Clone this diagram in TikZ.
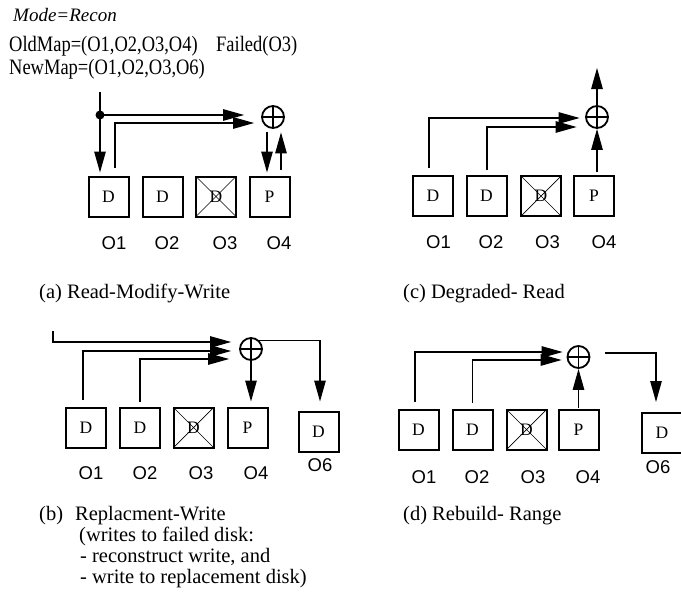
\documentclass[tikz,border=0pt]{standalone}
\usepackage{fontspec}
\setmainfont{Liberation Serif}
\newfontfamily\osans{Liberation Sans}
\newfontfamily\headfont[FakeStretch=0.84]{Liberation Serif}
\usetikzlibrary{calc,arrows.meta}

\tikzstyle{disk}=[draw,line width=2pt,minimum size=40pt,inner sep=0pt,font=\fontsize{17.5}{17.5}\selectfont]
\tikzstyle{failed}=[disk,path picture={\draw[line width=0.7pt] (path picture bounding box.north west) -- (path picture bounding box.south east) (path picture bounding box.south west) -- (path picture bounding box.north east);}]
\tikzstyle{xor}=[circle,draw,line width=1.8pt,minimum size=22pt,inner sep=0pt,path picture={\draw[line width=1.8pt] (path picture bounding box.north) -- (path picture bounding box.south) (path picture bounding box.west) -- (path picture bounding box.east);}]
\tikzstyle{tag}=[font=\osans\fontsize{18.5}{18}\selectfont,inner sep=0pt]
\tikzstyle{head}=[font=\headfont\fontsize{22}{22}\selectfont,inner sep=0pt,anchor=west]
\tikzstyle{caption}=[font=\fontsize{20.5}{20}\selectfont,inner sep=0pt,anchor=base west]
\tikzstyle{arr}=[draw,line width=1.2pt,-{Triangle[length=21pt,width=11.5pt]}]

\begin{document}
\begin{tikzpicture}[x=1pt,y=-1pt]
\useasboundingbox (0,0) rectangle (681,600);
\clip (0,0) rectangle (681,600);

\node[head,font=\itshape\fontsize{19}{19}\selectfont] (h1) at (13,15) {Mode=Recon};
\node[head] (h2) at (9,46) {OldMap=(O1,O2,O3,O4)};
\node[head] (h3) at (216,46) {Failed(O3)};
\node[head] (h4) at (9,69) {NewMap=(O1,O2,O3,O6)};

% (a)
\node[disk] (1) at (108.5,196.5) {D};
\node[disk] (2) at (162.5,196.5) {D};
\node[failed] (3) at (216,196.5) {D};
\node[disk] (4) at (269.5,196.5) {P};
\node[xor] (5) at (273,117) {};
\node[tag] (o1) at (114,243) {O1};
\node[tag] (o2) at (167,243) {O2};
\node[tag] (o3) at (225,243) {O3};
\node[tag] (o4) at (279,243) {O4};
\coordinate (in1) at (100,92);
\coordinate (dot) at (100,115);
\path[arr,shorten >=3pt] (in1) -- (in1 |- 1.north);
\fill (dot) circle (4.5);
\path[arr,shorten >=17pt] (dot) -- (dot -| 5.west);
\path[arr] ($(1.north)+(6.5,-8)$) |- ($(5.west)+(-7,6)$);
\path[arr] ($(5.south)+(-6,3.5)$) -- ($(4.north)+(-2.5,-3)$);
\path[arr] ($(4.north)+(11.5,-6)$) -- ($(5.south)+(8,3.5)$);
\node[caption] (ca) at (39,298) {(a) Read-Modify-Write};

% (c)
\node[disk] (11) at (433,196) {D};
\node[disk] (12) at (486.5,196) {D};
\node[failed] (13) at (541,196) {D};
\node[disk] (14) at (594,196) {P};
\node[xor] (15) at (597,117) {};
\node[tag] (o11) at (438.5,242) {O1};
\node[tag] (o12) at (491,242) {O2};
\node[tag] (o13) at (547.5,242) {O3};
\node[tag] (o14) at (604,242) {O4};
\coordinate (out1) at (597,68);
\path[arr] (15.north) -- (out1);
\path[arr] ($(14.north)+(3,-3)$) -- (15.south);
\path[arr] ($(11.north)+(-4,-7)$) |- ($(15.west)+(-5.5,1)$);
\path[arr] ($(12.north)+(0.5,-5)$) |- ($(15.west)+(-8.5,10)$);
\node[caption] (cc) at (403,298) {(c) Degraded- Read};

% (b)
\node[disk] (21) at (86,427.5) {D};
\node[disk] (22) at (140,427.5) {D};
\node[failed] (23) at (193.5,427.5) {D};
\node[disk] (24) at (247.5,427.5) {P};
\node[disk] (26) at (318.5,431.5) {D};
\node[xor] (25) at (251,349) {};
\node[tag] (o21) at (91,473) {O1};
\node[tag] (o22) at (145,473) {O2};
\node[tag] (o23) at (201,473) {O3};
\node[tag] (o24) at (256,473) {O4};
\node[tag] (o26) at (320,465) {O6};
\coordinate (in2) at (53,331);
\path[arr] (in2) |- ($(25.west)+(-8,-7)$);
\path[arr] ($(21.north)+(-3,-7)$) |- ($(25.west)+(-8,2)$);
\path[arr] ($(22.north)+(0,-5)$) |- ($(25.west)+(-10,10)$);
\path[arr] (25.south) -- ($(24.north)+(3.5,-5)$);
\path[arr] (25.45) -| ($(26.north)+(1.5,-9)$);
\node[caption] (cb1) at (39,520) {(b)\hspace{12pt}Replacment-Write};
\node[caption] (cb2) at (79,541) {(writes to failed disk:};
\node[caption] (cb3) at (80,562) {- reconstruct write, and};
\node[caption] (cb4) at (80,583) {- write to replacement disk)};

% (d)
\node[disk] (31) at (418.5,429.5) {D};
\node[disk] (32) at (472.5,429.5) {D};
\node[failed] (33) at (526.5,429.5) {D};
\node[disk] (34) at (578.5,429.5) {P};
\node[disk] (36) at (662,433) {D};
\node[xor] (35) at (578.5,357) {};
\node[tag] (o31) at (424,477) {O1};
\node[tag] (o32) at (477,477) {O2};
\node[tag] (o33) at (533,477) {O3};
\node[tag] (o34) at (588,477) {O4};
\node[tag] (o36) at (658,467) {O6};
\path[arr] ($(31.north)+(-3.5,-7)$) |- ($(35.west)+(-4,-5)$);
\path[arr] ($(32.north)+(0,-6)$) |- ($(35.west)+(-5,3)$);
\path[arr] ($(34.north)+(0,-1)$) -- (35.south);
\path[arr] ($(35.east)+(15,-4)$) -| ($(36.north)+(-6,-10)$);
\node[caption] (cd) at (403,520) {(d) Rebuild- Range};
\end{tikzpicture}
\end{document}
